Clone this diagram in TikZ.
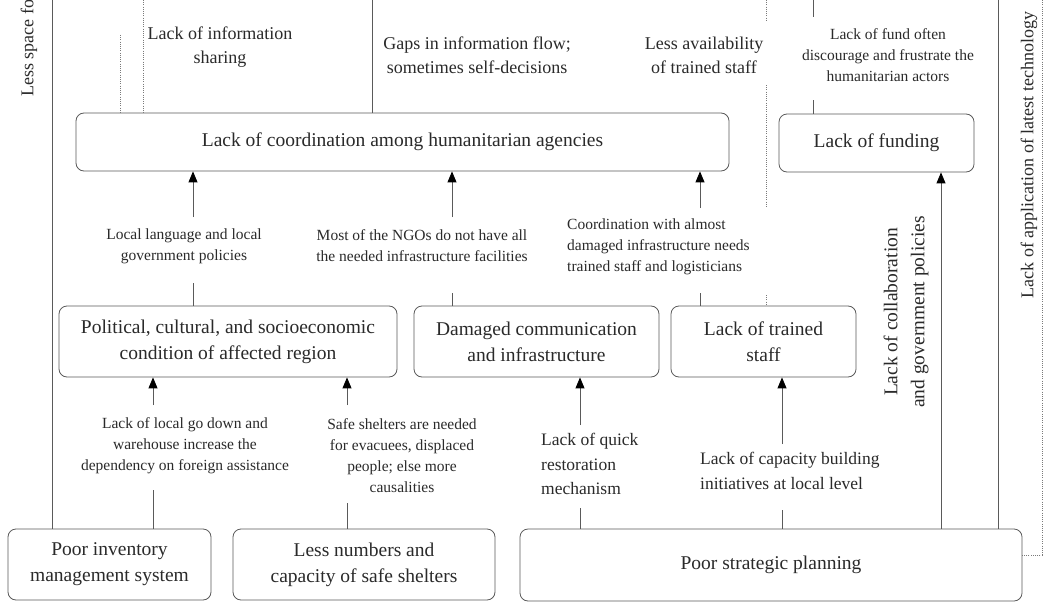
\documentclass[tikz,border=0pt]{standalone}
\usepackage{fontspec}
\setmainfont{Liberation Serif}
\usetikzlibrary{arrows.meta}
\definecolor{txt}{HTML}{2A2A2A}
\definecolor{linec}{HTML}{5A5A5A}
\definecolor{dotc}{HTML}{7A7A7A}
\newcommand{\boxfont}{\fontsize{19.5}{26}\selectfont}
\newcommand{\topfont}{\fontsize{18}{24}\selectfont}
\newcommand{\midfont}{\fontsize{15.5}{21}\selectfont}
\newcommand{\lowfont}{\fontsize{17.5}{24.5}\selectfont}
\begin{document}
\begin{tikzpicture}[x=1pt,y=-1pt,
  box/.style={draw=linec, line width=0.8pt, rounded corners=8pt, align=center, inner sep=0pt, text=txt, font=\boxfont},
  lbl/.style={align=center, inner sep=0pt, text=txt},
  conn/.style={draw=linec, line width=0.9pt},
  arr/.style={conn, -{Triangle[length=11pt,width=9pt,color=black]}},
  dots/.style={draw=dotc, line width=0.8pt, dash pattern=on 1pt off 1.2pt}]
\useasboundingbox[fill=white] (0,0) rectangle (1044,602);

% boxes
\node[box, minimum width=653pt, minimum height=58pt] (coord) at (402.5,142) {Lack of coordination among humanitarian agencies};
\node[box, minimum width=195pt, minimum height=58pt] (fund) at (876.5,143) {Lack of funding};
\node[box, minimum width=338pt, minimum height=71pt] (pol) at (228,341.5) {Political, cultural, and socioeconomic\\condition of affected region};
\node[box, minimum width=245pt, minimum height=71pt] (dam) at (536.5,341.5) {Damaged communication\\and infrastructure};
\node[box, minimum width=185pt, minimum height=71pt] (staff) at (763.5,341.5) {Lack of trained\\staff};
\node[box, minimum width=203pt, minimum height=71pt] (inv) at (109.5,564.5) {Poor inventory\\management system};
\node[box, minimum width=262pt, minimum height=71pt] (shel) at (364,564.5) {Less numbers and\\capacity of safe shelters};
\node[box, minimum width=502pt, minimum height=72pt] (plan) at (771,565) {Poor strategic planning};

% top labels
\node[lbl, font=\topfont] (l1) at (220,47) {Lack of information\\sharing};
\node[lbl, font=\topfont] (l2) at (477,55) {Gaps in information flow;\\sometimes self-decisions};
\node[lbl, font=\topfont] (l3) at (704,55) {Less availability\\of trained staff};
\node[lbl, font=\midfont] (l4) at (888,55) {Lack of fund often\\discourage and frustrate the\\humanitarian actors};
% middle labels
\node[lbl, font=\midfont] (m1) at (184,246) {Local language and local\\government policies};
\node[lbl, font=\midfont] (m2) at (422,246) {Most of the NGOs do not have all\\the needed infrastructure facilities};
\node[lbl, font=\midfont, align=left, anchor=west] (m3) at (567,247) {Coordination with almost\\damaged infrastructure needs\\trained staff and logisticians};
% lower labels
\node[lbl, font=\midfont] (b1) at (185,446) {Lack of local go down and\\warehouse increase the\\dependency on foreign assistance};
\node[lbl, font=\midfont] (b2) at (402,456) {Safe shelters are needed\\for evacuees, displaced\\people; else more\\causalities};
\node[lbl, font=\lowfont, align=left, anchor=west] (b3) at (541,464) {Lack of quick\\restoration\\mechanism};
\node[lbl, font=\lowfont, align=left, anchor=west] (b4) at (700,471) {Lack of capacity building\\initiatives at local level};
% rotated labels
\node[lbl, font=\fontsize{19.5}{27}\selectfont, rotate=90] (r1) at (906,312) {Lack of collaboration\\and government policies};
\node[lbl, font=\topfont, rotate=90] (r2) at (1029,155) {Lack of application of latest technology};
\node[lbl, font=\topfont, rotate=90, anchor=west] (r3) at (29,97) {Less space fo};

% connector coordinates
\coordinate (c1a) at (193,283); \coordinate (c1b) at (193,217);
\coordinate (c2a) at (452,293); \coordinate (c2b) at (452,217);
\coordinate (c3a) at (700,293); \coordinate (c3b) at (700,208);
\coordinate (c4a) at (153,490); \coordinate (c4b) at (153,405);
\coordinate (c5a) at (347,503); \coordinate (c5b) at (347,405);
\coordinate (c6a) at (580,508); \coordinate (c6b) at (580,425);
\coordinate (c7a) at (782,510); \coordinate (c7b) at (782,444);
\coordinate (c8) at (941,0);
\coordinate (t1) at (52,0);
\coordinate (t2) at (372,0);
\coordinate (t3) at (998,0);
\coordinate (t4a) at (813,0); \coordinate (t4b) at (813,17); \coordinate (t4c) at (813,100);
\coordinate (d1a) at (120,35);
\coordinate (d2a) at (143,0);
\coordinate (d3a) at (766,0); \coordinate (d3b) at (766,22); \coordinate (d3c) at (766,85);
\coordinate (d3d) at (766,208); \coordinate (d3e) at (766,295);
\coordinate (d4a) at (1042,0); \coordinate (d4b) at (1042,555);

% arrows with labels
\path[conn] (c1a |- pol.north) -- (c1a);
\path[arr] (c1b) -- (c1b |- coord.south);
\path[conn] (c2a |- dam.north) -- (c2a);
\path[arr] (c2b) -- (c2b |- coord.south);
\path[conn] (c3a |- staff.north) -- (c3a);
\path[arr] (c3b) -- (c3b |- coord.south);
\path[conn] (c4a |- inv.north) -- (c4a);
\path[arr] (c4b) -- (c4b |- pol.south);
\path[conn] (c5a |- shel.north) -- (c5a);
\path[arr] (c5b) -- (c5b |- pol.south);
\path[conn] (c6a |- plan.north) -- (c6a);
\path[arr] (c6b) -- (c6b |- dam.south);
\path[conn] (c7a |- plan.north) -- (c7a);
\path[arr] (c7b) -- (c7b |- staff.south);
\path[arr] (c8 |- plan.north) -- (c8 |- fund.south);

% plain lines
\path[conn] (t1 |- inv.north) -- (t1);
\path[conn] (t2 |- coord.north) -- (t2);
\path[conn] (t3 |- plan.north) -- (t3);
\path[conn] (t4a) -- (t4b);
\path[conn] (t4c) -- (t4c |- fund.north);

% dotted lines
\path[dots] (d1a) -- (d1a |- coord.north);
\path[dots] (d2a) -- (d2a |- coord.north);
\path[dots] (d3a) -- (d3b);
\path[dots] (d3c) -- (d3d);
\path[dots] (d3e) -- (d3e |- staff.north);
\path[dots] (d4a) -- (d4b) -- (d4b -| plan.east);
\end{tikzpicture}
\end{document}
